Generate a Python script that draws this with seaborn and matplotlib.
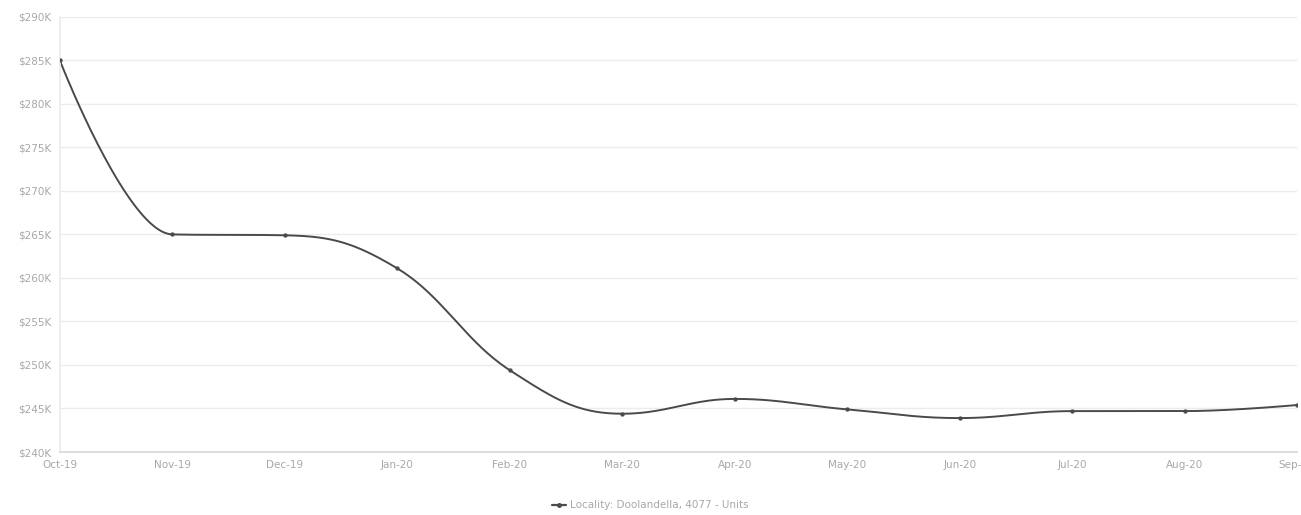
import numpy as np
import pandas as pd
import matplotlib
matplotlib.use("Agg")
import matplotlib.pyplot as plt
import seaborn as sns
from matplotlib.lines import Line2D

months = ["Oct-19", "Nov-19", "Dec-19", "Jan-20", "Feb-20", "Mar-20",
          "Apr-20", "May-20", "Jun-20", "Jul-20", "Aug-20", "Sep-20"]
prices = [285000, 265000, 264900, 261100, 249400, 244400,
          246100, 244900, 243900, 244700, 244700, 245400]
series_name = "Locality: Doolandella, 4077 - Units"
y_ticks = [240000, 245000, 250000, 255000, 260000, 265000,
           270000, 275000, 280000, 285000, 290000]


def spline_controls(xs, ys, smoothing=1.5):
    n = len(xs)
    denom = smoothing + 1
    left = [None] * n
    right = [None] * n
    for i in range(1, n - 1):
        px, py = xs[i], ys[i]
        lx, ly = xs[i - 1], ys[i - 1]
        nx, ny = xs[i + 1], ys[i + 1]
        lcx = (smoothing * px + lx) / denom
        lcy = (smoothing * py + ly) / denom
        rcx = (smoothing * px + nx) / denom
        rcy = (smoothing * py + ny) / denom
        corr = 0.0
        if rcx != lcx:
            corr = (rcy - lcy) * (rcx - px) / (rcx - lcx) + py - rcy
        lcy += corr
        rcy += corr
        if lcy > ly and lcy > py:
            lcy = max(ly, py); rcy = 2 * py - lcy
        elif lcy < ly and lcy < py:
            lcy = min(ly, py); rcy = 2 * py - lcy
        if rcy > ny and rcy > py:
            rcy = max(ny, py); lcy = 2 * py - rcy
        elif rcy < ny and rcy < py:
            rcy = min(ny, py); lcy = 2 * py - rcy
        left[i] = (lcx, lcy)
        right[i] = (rcx, rcy)
    sx, sy = [], []
    t = np.linspace(0, 1, 40)
    for i in range(1, n):
        p0 = (xs[i - 1], ys[i - 1])
        p1 = right[i - 1] if right[i - 1] is not None else p0
        p3 = (xs[i], ys[i])
        p2 = left[i] if left[i] is not None else p3
        bx = ((1 - t) ** 3) * p0[0] + 3 * ((1 - t) ** 2) * t * p1[0] + 3 * (1 - t) * t ** 2 * p2[0] + t ** 3 * p3[0]
        by = ((1 - t) ** 3) * p0[1] + 3 * ((1 - t) ** 2) * t * p1[1] + 3 * (1 - t) * t ** 2 * p2[1] + t ** 3 * p3[1]
        if i > 1:
            bx, by = bx[1:], by[1:]
        sx.extend(bx); sy.extend(by)
    return np.array(sx), np.array(sy)


sns.set_theme(style="white")
plt.rcParams['font.family'] = ['DejaVu Sans']

fig = plt.figure(figsize=(13.01, 5.15), dpi=100)
ax = fig.add_axes([0.046, 0.1223, 0.951, 0.845])

xi = np.arange(len(months), dtype=float)
cx, cy = spline_controls(list(xi), list(map(float, prices)))
curve = pd.DataFrame({"x": cx, "y": cy})
pts = pd.DataFrame({"x": xi, "y": prices})

line_color = "#4a4a4a"
sns.lineplot(data=curve, x="x", y="y", ax=ax, color=line_color, linewidth=1.4,
             sort=False, legend=False)
sns.scatterplot(data=pts, x="x", y="y", ax=ax, color=line_color, s=8,
                edgecolor=None, legend=False, zorder=3)

ax.set_xlim(0, len(months) - 1)
ax.set_ylim(240000, 290000)
ax.set_yticks(y_ticks)
ax.set_yticklabels([f"${v // 1000}K" for v in y_ticks])
ax.set_xticks(xi)
ax.set_xticklabels(months)
ax.set_xlabel("")
ax.set_ylabel("")

ax.grid(axis="y", color="#ececec", linewidth=1)
ax.grid(axis="x", visible=False)
for s in ["top", "right"]:
    ax.spines[s].set_visible(False)
ax.spines["left"].set_color("#ececec")
ax.spines["bottom"].set_color("#d8d8d8")
ax.tick_params(axis="both", colors="#b0b0b0", labelsize=7.5, length=0, pad=6)
for lbl in ax.get_xticklabels() + ax.get_yticklabels():
    lbl.set_color("#a8a8a8")

handle = Line2D([0], [0], color=line_color, linewidth=1.6, marker="o", markersize=2.5)
fig.legend([handle], [series_name], loc="center", bbox_to_anchor=(0.5, 0.019),
           frameon=False, fontsize=7.5, labelcolor="#a8a8a8", handlelength=1.3,
           handletextpad=0.4)

fig.savefig("out.png", dpi=100)
